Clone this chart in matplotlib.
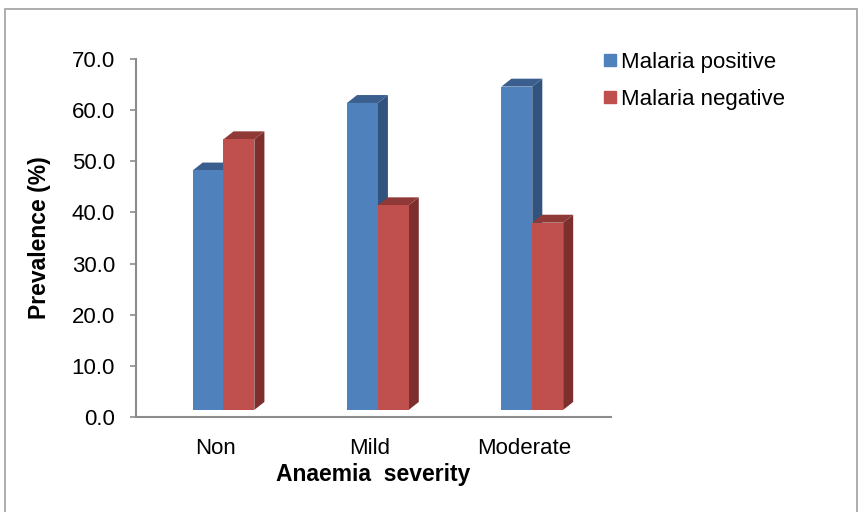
import matplotlib.pyplot as plt
from matplotlib.patches import Polygon, Rectangle
from matplotlib.lines import Line2D

plt.rcParams['font.family'] = ['Liberation Sans', 'DejaVu Sans']

categories = ['Non', 'Mild', 'Moderate']
malaria_positive = [48.2, 61.4, 64.6]
malaria_negative = [54.3, 41.4, 38.0]
series_names = ['Malaria positive', 'Malaria negative']
yticks = [0, 10, 20, 30, 40, 50, 60, 70]

# front / side / top shades for the fake 3D columns
shades = [
    ('#4f81bd', '#32537e', '#3a5f8f'),
    ('#c0504d', '#7c2f2d', '#8f3a37'),
]

fig = plt.figure(figsize=(8.65, 5.12), dpi=100)
ax = fig.add_axes([0.157, 0.1855, 0.549, 0.6993])

bw = 0.2        # width of one column
dx, dy = 0.065, 1.55   # depth offset
base = 1.4      # floor of the front face
shift = 0.055

for k, vals in enumerate([malaria_positive, malaria_negative]):
    front, side, top = shades[k]
    for i, v in enumerate(vals):
        x0 = i + shift - bw + k * bw
        x1 = x0 + bw
        ax.add_patch(Polygon([(x1, base), (x1 + dx, base + dy), (x1 + dx, v + dy), (x1, v)],
                             closed=True, fc=side, ec='none', zorder=2 + k))
        ax.add_patch(Polygon([(x0, v), (x0 + dx, v + dy), (x1 + dx, v + dy), (x1, v)],
                             closed=True, fc=top, ec='none', zorder=2 + k))
        ax.bar(x0, v - base, bottom=base, width=bw, align='edge', color=front,
               zorder=2 + k)

ax.set_xlim(-0.513, 2.563)
ax.set_ylim(0, 70)
ax.set_yticks(yticks)
ax.set_yticklabels([f'{t:.1f}' for t in yticks], fontsize=16)
ax.set_xticks(range(len(categories)))
ax.set_xticklabels(categories, fontsize=16)
ax.tick_params(axis='x', length=0, pad=15)
ax.tick_params(axis='y', length=4, width=1.2, color='#8c8c8c', pad=11)

for s in ['top', 'right']:
    ax.spines[s].set_visible(False)
for s in ['left', 'bottom']:
    ax.spines[s].set_color('#8c8c8c')
    ax.spines[s].set_linewidth(1.5)

ax.set_ylabel('Prevalence (%)', fontsize=16.5, fontweight='bold', va='center')
ax.yaxis.set_label_coords(-0.2025, 0.5)
ax.set_xlabel('Anaemia  severity', fontsize=16.5, fontweight='bold', va='center')
ax.xaxis.set_label_coords(0.5, -0.16)

handles = [Line2D([], [], marker='s', ls='none', color=shades[k][0], markersize=9)
           for k in range(2)]
fig.legend(handles, series_names, loc='upper left', bbox_to_anchor=(0.683, 0.916),
           frameon=False, fontsize=16, handletextpad=0.05, labelspacing=0.72,
           handlelength=0.9, borderaxespad=0)

# outer chart border
fig.patches.append(Rectangle((0.006, -0.01), 0.985, 0.993, transform=fig.transFigure,
                             fill=False, ec='#a0a0a0', lw=1.2))

fig.savefig('out.png', dpi=100)
